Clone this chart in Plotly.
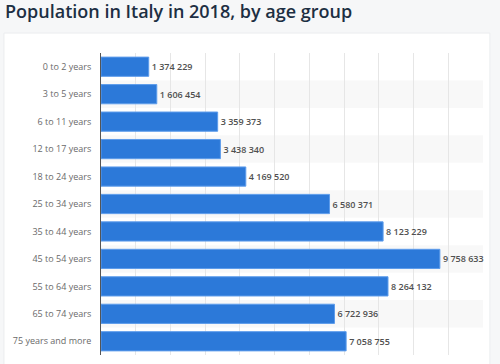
import plotly.graph_objects as go

categories = ["0 to 2 years", "3 to 5 years", "6 to 11 years", "12 to 17 years",
              "18 to 24 years", "25 to 34 years", "35 to 44 years", "45 to 54 years",
              "55 to 64 years", "65 to 74 years", "75 years and more"]
population = [1374229, 1606454, 3359373, 3438340, 4169520, 6580371,
              8123229, 9758633, 8264132, 6722936, 7058755]
labels = ["{:,}".format(v).replace(",", " ") for v in population]

fig = go.Figure()
fig.add_trace(go.Bar(
    y=categories, x=population, orientation="h",
    marker=dict(color="#2c79d9", line=dict(color="#5d9ceb", width=1)),
    text=labels, textposition="outside", cliponaxis=False,
    textfont=dict(family="Open Sans", size=9, color="#505050", weight=600),
    hoverinfo="skip",
))

shapes = [dict(type="rect", xref="paper", yref="paper", x0=-0.254, x1=1.018,
               y0=-0.06, y1=1.066, fillcolor="white",
               line=dict(color="#ebedef", width=1), layer="below")]
for i, c in enumerate(categories):
    if i % 2 == 1:
        shapes.append(dict(type="rect", xref="paper", yref="y", x0=0, x1=1,
                           y0=i - 0.5, y1=i + 0.5, fillcolor="#f8f8f8",
                           line=dict(width=0), layer="below"))

fig.update_layout(
    width=500, height=364,
    margin=dict(l=101, r=17, t=53, b=9),
    paper_bgcolor="#f6f7f8", plot_bgcolor="rgba(0,0,0,0)",
    bargap=0.3, showlegend=False,
    shapes=shapes,
    title=dict(text="Population in Italy in 2018, by age group",
               x=0.01, xanchor="left", y=1 - 12 / 364, yanchor="middle",
               font=dict(family="Open Sans", size=18, color="#1d2f43", weight=600)),
    xaxis=dict(range=[0, 11000000], dtick=1000000, showticklabels=False,
               showgrid=True, gridcolor="#e6e6e6", gridwidth=1, zeroline=False,
               fixedrange=True, automargin=False),
    yaxis=dict(autorange="reversed", showline=True, linecolor="#555555", linewidth=1,
               ticks="", ticklabelstandoff=7, automargin=False, fixedrange=True,
               tickfont=dict(family="Open Sans", size=9, color="#6a6a6a")),
)

fig.write_html("out.html", config={"displayModeBar": False},
               post_script="document.body.style.margin='0';document.body.style.overflow='hidden';")
